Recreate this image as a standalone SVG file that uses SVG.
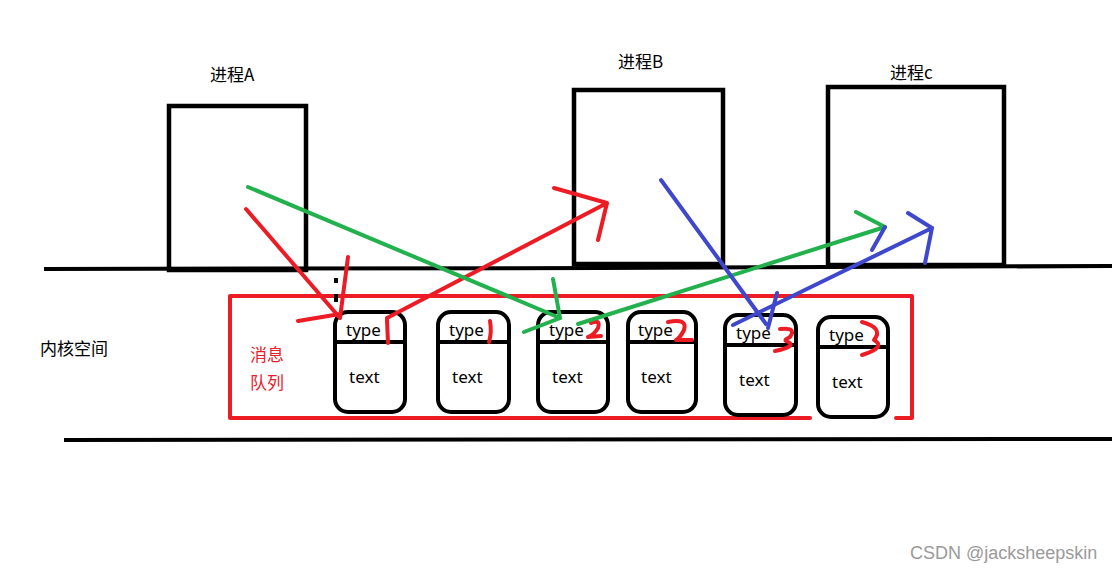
<svg xmlns="http://www.w3.org/2000/svg" width="1112" height="574" viewBox="0 0 1112 574">
<style>
.lbl{font-family:"Noto Sans CJK SC","Noto Sans",sans-serif;font-size:17px;fill:#000}
.red{fill:#e8202a}
.proc{fill:none;stroke:#000;stroke-width:4.5}
.ln{fill:none;stroke:#000;stroke-width:4}
.cell{fill:none;stroke:#000;stroke-width:4}
.ct{font-family:"Noto Sans","Open Sans",sans-serif;font-size:17px;fill:#000}
.r{fill:none;stroke:#ed1c24;stroke-width:4;stroke-linecap:round;stroke-linejoin:round}
.g{fill:none;stroke:#22b14c;stroke-width:4;stroke-linecap:round}
.b{fill:none;stroke:#3f48cc;stroke-width:4;stroke-linecap:round}
</style>
<rect width="1112" height="574" fill="#fff"/>
<g id="kernel-lines">
<polyline class="ln" points="44,269 600,268 1112,266"/>
<line class="ln" x1="64" y1="440" x2="1112" y2="439"/>
</g>
<g id="procA"><rect class="proc" x="169" y="106" width="137" height="164"/><text class="lbl" x="210" y="81">进程A</text></g>
<g id="procB"><rect class="proc" x="574" y="90" width="149" height="174"/><text class="lbl" x="618" y="68">进程B</text></g>
<g id="procC"><rect class="proc" x="828" y="87" width="176" height="178"/><text class="lbl" x="890" y="79">进程c</text></g>
<g id="kernel-label"><text class="lbl" x="40" y="355">内核空间</text></g>
<g id="queue">
<path class="r" d="M810,418 L230,418 L230,296 L912,296 L912,418 L896,418" stroke-linecap="butt"/>
<text class="lbl red" x="250" y="361">消息</text>
<text class="lbl red" x="250" y="389">队列</text>
</g>
<g id="msg1"><rect class="cell" x="335" y="312" width="70" height="100" rx="13"/><line class="cell" x1="335" y1="342" x2="405" y2="342"/><text class="ct" x="346" y="336">type</text><text class="ct" x="349" y="383">text</text></g>
<g id="msg2"><rect class="cell" x="438" y="312" width="71" height="100" rx="13"/><line class="cell" x1="438" y1="342" x2="509" y2="342"/><text class="ct" x="449" y="336">type</text><text class="ct" x="452" y="383">text</text></g>
<g id="msg3"><rect class="cell" x="538" y="312" width="70" height="100" rx="13"/><line class="cell" x1="538" y1="342" x2="608" y2="342"/><text class="ct" x="549" y="336">type</text><text class="ct" x="552" y="383">text</text></g>
<g id="msg4"><rect class="cell" x="628" y="312" width="68" height="100" rx="13"/><line class="cell" x1="628" y1="342" x2="696" y2="342"/><text class="ct" x="638" y="336">type</text><text class="ct" x="641" y="383">text</text></g>
<g id="msg5"><rect class="cell" x="725" y="315" width="71" height="100" rx="13"/><line class="cell" x1="725" y1="345" x2="796" y2="345"/><text class="ct" x="736" y="339">type</text><text class="ct" x="739" y="386">text</text></g>
<g id="msg6"><rect class="cell" x="818" y="317" width="70" height="100" rx="13"/><line class="cell" x1="818" y1="347" x2="888" y2="347"/><text class="ct" x="829" y="341">type</text><text class="ct" x="832" y="388">text</text></g>
<g id="marks">
<path class="r" stroke-width="2.5" d="M387,320 L388,343"/>
<path class="r" stroke-width="2.5" d="M490,321 Q492,332 489,342"/>
<path class="r" stroke-width="2.5" d="M591,323 Q601,319 598,328 Q594,335 588,337 L601,336"/>
<path class="r" stroke-width="2.5" d="M668,322 Q688,318 684,330 Q680,338 676,340 L692,340"/>
<path class="r" stroke-width="2.5" d="M780,329 Q797,327 790,337 Q784,340 786,341 Q799,346 775,351"/>
<path class="r" stroke-width="2.5" d="M862,322 Q884,328 874,340 Q887,347 862,355"/>
<rect x="334" y="278" width="4" height="5" fill="#000"/>
<rect x="334" y="294" width="4" height="8" fill="#000"/>
</g>
<g id="connectors">
<path class="r" d="M246,209 L340,318 M348,257 L340,318 M298,321 L340,314"/>
<path class="r" d="M387,318 L607,203 M554,188 L607,203 L598,240"/>
<path class="g" d="M248,187 L560,318 M553,279 L560,318 L524,332"/>
<path class="g" d="M578,324 L885,227 M856,212 L885,227"/>
<path class="b" d="M885,227 L872,250"/>
<path class="b" d="M661,180 L766,324 M777,293 L768,328"/>
<path class="b" d="M733,325 L932,228 M908,213 L932,228 L925,263"/>
</g>
<text x="910" y="559" font-family="Liberation Sans,Arial,sans-serif" font-size="18" fill="#9a9a9a">CSDN @jacksheepskin</text>
</svg>
